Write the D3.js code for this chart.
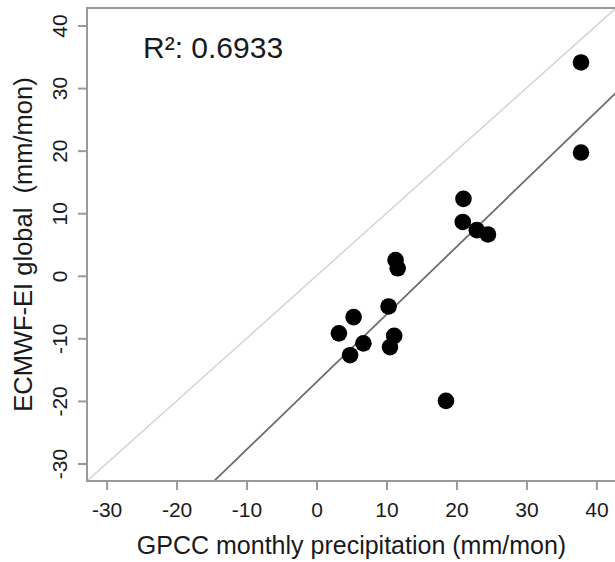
<!DOCTYPE html>
<html>
<head>
<meta charset="utf-8">
<script src="https://cdn.jsdelivr.net/npm/d3@7"></script>
<style>
    body { margin: 0; background: #fff; }
    text { font-family: "Liberation Sans", Arial, sans-serif; fill: #1a1a1a; }
</style>
</head>
<body>
<div id="scatterplot"></div>
<script>
// GPCC (x) vs ECMWF-EI global (y), mm/mon
const gpcc  = [37.8, 37.8, 21.0, 20.9, 22.9, 24.5, 11.3, 11.6, 10.3, 5.3, 3.2, 6.7, 4.8, 11.1, 10.5, 18.5];
const ecmwf = [34.1, 19.7, 12.3, 8.6, 7.3, 6.6, 2.5, 1.2, -4.9, -6.6, -9.2, -10.8, -12.7, -9.6, -11.4, -20.0];

const xTicks = [-30, -20, -10, 0, 10, 20, 30, 40];
const yTicks = [-30, -20, -10, 0, 10, 20, 30, 40];
const axisLimits = [-32.8, 42.8];

const xTitle = "GPCC monthly precipitation (mm/mon)";
const yTitle = "ECMWF-EI global\u00a0 (mm/mon)";
const rSquaredLabel = "R\u00b2: 0.6933";

function main() {
    const data = gpcc.map(function(x, i) { return {x: x, y: ecmwf[i]}; });
    drawScatterplot(data);
}

function drawScatterplot(data) {
    const width = 615, height = 562;
    const plot = {left: 87, right: 616, top: 8, bottom: 481};

    const svg = d3.select("#scatterplot")
        .append("svg")
        .attr("width", width)
        .attr("height", height);

    const xScale = d3.scaleLinear().domain(axisLimits).range([plot.left, plot.right]);
    const yScale = d3.scaleLinear().domain(axisLimits).range([plot.bottom, plot.top]);

    svg.append("clipPath").attr("id", "clip")
        .append("rect")
        .attr("x", plot.left).attr("y", plot.top)
        .attr("width", plot.right - plot.left).attr("height", plot.bottom - plot.top);

    // least squares fit
    const mx = d3.mean(data, d => d.x), my = d3.mean(data, d => d.y);
    const sxy = d3.sum(data, d => (d.x - mx) * (d.y - my));
    const sxx = d3.sum(data, d => (d.x - mx) * (d.x - mx));
    const slope = sxy / sxx;
    const intercept = my - slope * mx;

    const lines = svg.append("g").attr("clip-path", "url(#clip)");

    // 1:1 line
    lines.append("line")
        .attr("x1", xScale(axisLimits[0])).attr("y1", yScale(axisLimits[0]))
        .attr("x2", xScale(axisLimits[1])).attr("y2", yScale(axisLimits[1]))
        .attr("stroke", "#d4d4d4")
        .attr("stroke-width", 1.5);

    // regression line
    lines.append("line")
        .attr("x1", xScale(axisLimits[0])).attr("y1", yScale(intercept + slope * axisLimits[0]))
        .attr("x2", xScale(axisLimits[1])).attr("y2", yScale(intercept + slope * axisLimits[1]))
        .attr("stroke", "#6e6e6e")
        .attr("stroke-width", 1.8);

    // points
    svg.selectAll(".pt")
        .data(data)
        .enter()
        .append("circle")
        .attr("class", "pt")
        .attr("cx", d => xScale(d.x))
        .attr("cy", d => yScale(d.y))
        .attr("r", 8.3)
        .style("fill", "#000");

    // box
    svg.append("rect")
        .attr("x", plot.left).attr("y", plot.top)
        .attr("width", plot.right - plot.left).attr("height", plot.bottom - plot.top)
        .attr("fill", "none")
        .attr("stroke", "#9a9a9a")
        .attr("stroke-width", 2);

    const plainNum = d => String(d); // hyphen minus like the original

    // x axis
    const xAxis = svg.append("g")
        .attr("transform", `translate(0, ${plot.bottom})`)
        .call(d3.axisBottom(xScale).tickValues(xTicks).tickFormat(plainNum)
            .tickSize(9).tickSizeOuter(0).tickPadding(12));
    xAxis.select(".domain").remove();
    xAxis.selectAll("line").attr("stroke", "#9a9a9a").attr("stroke-width", 2);
    xAxis.selectAll("text")
        .style("font-family", "'Liberation Sans', Arial, sans-serif")
        .style("font-size", "21px")
        .attr("fill", "#1a1a1a");

    // y axis
    const yAxis = svg.append("g")
        .attr("transform", `translate(${plot.left}, 0)`)
        .call(d3.axisLeft(yScale).tickValues(yTicks).tickFormat(plainNum)
            .tickSize(9).tickSizeOuter(0));
    yAxis.select(".domain").remove();
    yAxis.selectAll("line").attr("stroke", "#9a9a9a").attr("stroke-width", 2);
    yAxis.selectAll("text")
        .attr("x", null).attr("dy", null)
        .attr("text-anchor", "middle")
        .attr("transform", "translate(-20, 0) rotate(-90)")
        .style("font-family", "'Liberation Sans', Arial, sans-serif")
        .style("font-size", "21px")
        .attr("fill", "#1a1a1a");

    // titles
    svg.append("text")
        .attr("x", (plot.left + plot.right) / 2)
        .attr("y", 554)
        .attr("text-anchor", "middle")
        .style("font-size", "25px")
        .text(xTitle);

    svg.append("text")
        .attr("transform", `translate(32, ${(plot.top + plot.bottom) / 2}) rotate(-90)`)
        .attr("text-anchor", "middle")
        .style("font-size", "25.5px")
        .text(yTitle);

    svg.append("text")
        .attr("x", 143)
        .attr("y", 58)
        .style("font-size", "30px")
        .text(rSquaredLabel);
}

main();
</script>
</body>
</html>
